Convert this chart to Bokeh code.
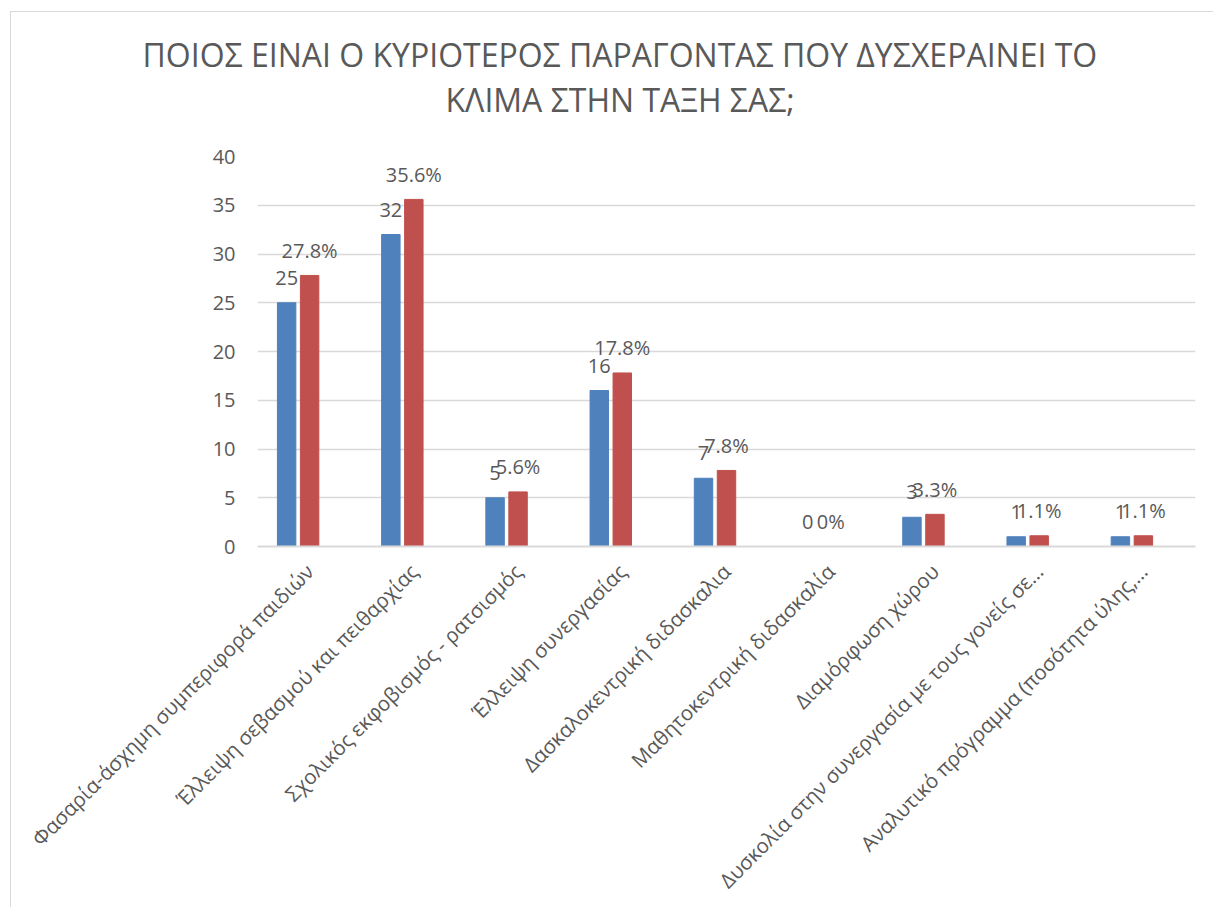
import math
from bokeh.plotting import figure
from bokeh.layouts import column
from bokeh.models import ColumnDataSource, FactorRange, Range1d, SingleIntervalTicker, Title
from bokeh.transform import dodge
from bokeh.core.properties import value
from bokeh.embed import file_html
from bokeh.resources import INLINE

categories = [
    "Φασαρία-άσχημη συμπεριφορά παιδιών",
    "Έλλειψη σεβασμού και πειθαρχίας",
    "Σχολικός εκφοβισμός - ρατσισμός",
    "Έλλειψη συνεργασίας",
    "Δασκαλοκεντρική διδασκαλια",
    "Μαθητοκεντρική διδασκαλία",
    "Διαμόρφωση χώρου",
    "Δυσκολία στην συνεργασία με τους γονείς σε…",
    "Αναλυτικό πρόγραμμα (ποσότητα ύλης,…",
]
counts = [25, 32, 5, 16, 7, 0, 3, 1, 1]
percents = [27.8, 35.6, 5.6, 17.8, 7.8, 0, 3.3, 1.1, 1.1]
title_lines = ["ΠΟΙΟΣ ΕΙΝΑΙ Ο ΚΥΡΙΟΤΕΡΟΣ ΠΑΡΑΓΟΝΤΑΣ ΠΟΥ ΔΥΣΧΕΡΑΙΝΕΙ ΤΟ",
               "ΚΛΙΜΑ ΣΤΗΝ ΤΑΞΗ ΣΑΣ;"]

BLUE = "#4F81BD"
RED = "#C0504D"
GRAY = "#595959"
GRID = "#D9D9D9"
FONT = "Open Sans"
W = 1202
LEFT, RIGHT = 246, 18

# ---- title strip: an empty figure whose "above" panel carries the two title lines ----
TH = 132
tf = figure(width=W, height=TH, x_range=Range1d(0, 1), y_range=Range1d(0, 1),
            output_backend="svg", toolbar_location=None,
            x_axis_type=None, y_axis_type=None,
            min_border_left=LEFT, min_border_right=RIGHT,
            min_border_top=108, min_border_bottom=0)
tf.outline_line_color = None
tf.xgrid.visible = False
tf.ygrid.visible = False
tf.add_layout(Title(text=title_lines[1], text_font=FONT, text_font_size="32px",
                    text_font_style="normal", text_color=GRAY, align="left",
                    offset=188, standoff=0), "above")
tf.add_layout(Title(text=title_lines[0], text_font=FONT, text_font_size="32px",
                    text_font_style="normal", text_color=GRAY, align="left",
                    offset=-115, standoff=0), "above")

# ---- main chart ----
src = ColumnDataSource(dict(
    cat=categories,
    counts=counts,
    percents=percents,
    count_lbl=[str(c) for c in counts],
    pct_lbl=[f"{v:g}%" for v in percents],
))

p = figure(
    x_range=FactorRange(factors=categories, range_padding=0),
    y_range=Range1d(0, 40),
    width=W, height=895 - TH,
    output_backend="svg", toolbar_location=None,
    min_border_left=LEFT, min_border_right=RIGHT,
    min_border_top=12, min_border_bottom=361,
)

p.vbar(x=dodge("cat", -0.2205, range=p.x_range), top="counts", width=0.177,
       source=src, fill_color=BLUE, line_color=BLUE)
p.vbar(x=dodge("cat", 0.0, range=p.x_range), top="percents", width=0.177,
       source=src, fill_color=RED, line_color=RED)

p.text(x=dodge("cat", -0.2205, range=p.x_range), y="counts", text="count_lbl",
       source=src, text_align="center", text_baseline="alphabetic", y_offset=-25,
       text_font=value(FONT), text_font_size="20px", text_color=GRAY)
p.text(x=dodge("cat", 0.0, range=p.x_range), y="percents", text="pct_lbl",
       source=src, text_align="center", text_baseline="alphabetic", y_offset=-25,
       text_font=value(FONT), text_font_size="20px", text_color=GRAY)

p.outline_line_color = None
p.background_fill_color = "white"
p.border_fill_color = "white"

p.xgrid.grid_line_color = None
p.ygrid.grid_line_color = GRID
p.ygrid.grid_line_width = 1.5

p.yaxis.ticker = SingleIntervalTicker(interval=5)
p.yaxis.axis_line_color = None
p.yaxis.major_tick_line_color = None
p.yaxis.minor_tick_line_color = None
p.yaxis.major_label_text_font = FONT
p.yaxis.major_label_text_font_size = "20px"
p.yaxis.major_label_text_color = GRAY
p.yaxis.major_label_standoff = 16

p.xaxis.axis_line_color = GRID
p.xaxis.axis_line_width = 2
p.xaxis.major_tick_line_color = None
p.xaxis.minor_tick_line_color = None
p.xaxis.major_label_orientation = math.pi / 4
p.xaxis.major_label_text_font = FONT
p.xaxis.major_label_text_font_size = "20.5px"
p.xaxis.major_label_text_color = GRAY
p.xaxis.major_label_standoff = 15

layout = column(tf, p, spacing=0)
layout.styles = {"margin-left": "10px", "margin-top": "11px",
                 "border-left": "1px solid #D9D9D9", "border-top": "1px solid #D9D9D9"}

open("out.html", "w").write(file_html(layout, INLINE))
